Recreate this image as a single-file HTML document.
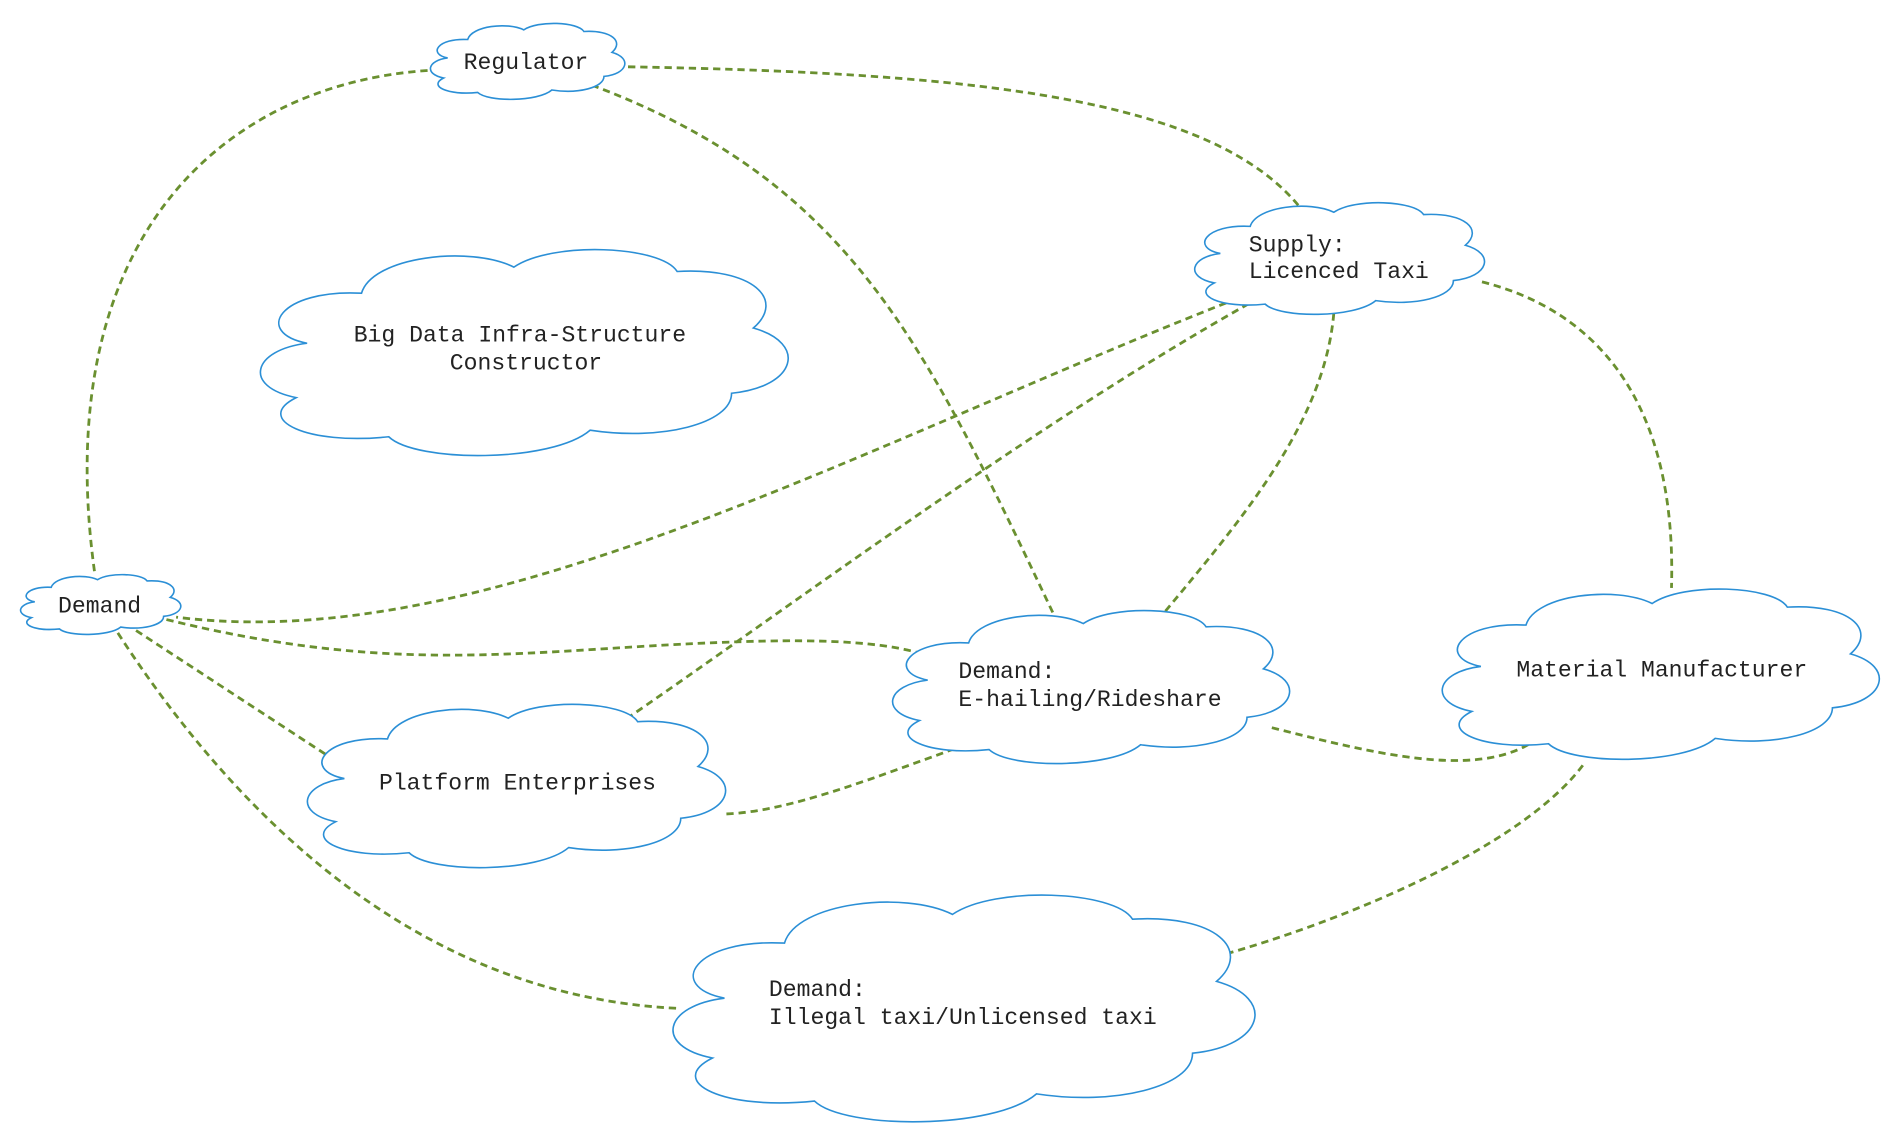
<!DOCTYPE html>
<html><head><meta charset="utf-8"><style>html,body{margin:0;padding:0;background:#fff}svg{display:block}</style></head>
<body>
<svg width="1895" height="1148" viewBox="0 0 1560 945" preserveAspectRatio="none" xmlns="http://www.w3.org/2000/svg">
<defs>
<path id="c" vector-effect="non-scaling-stroke" d="M10,45 C0,40 5,20 20,22 C22,5 40,0 48,10 C55,-2 75,0 78,12 C92,10 98,25 92,38 C102,45 100,65 88,68 C88,82 75,90 62,85 C55,100 30,100 25,88 C10,92 0,80 8,70 C-2,65 0,48 10,45 Z"/>
</defs>
<g fill="none" stroke="#6a9030" stroke-width="2.3" stroke-dasharray="6,4">
<path d="M352,58 C180,70 40,200 78,472"/>
<path d="M517,55 C800,60 1000,80 1072,173"/>
<path d="M487,70 C700,150 760,280 868,507"/>
<path d="M1028,242 C700,370 400,540 145,508"/>
<path d="M1028,250 C850,350 650,500 508,597"/>
<path d="M1098,258 C1090,350 1020,430 952,512"/>
<path d="M1220,232 C1330,260 1380,350 1376,484"/>
<path d="M137,510 C300,550 400,540 530,532 C650,525 720,525 765,540"/>
<path d="M112,519 L285,632"/>
<path d="M97,521 C200,680 350,820 557,830"/>
<path d="M598,670 C650,668 720,640 795,613"/>
<path d="M1047,599 C1130,620 1210,640 1258,613"/>
<path d="M1303,630 C1250,700 1100,760 1003,787"/>
</g>
<g fill="#fff" stroke="#2b8fd6" stroke-width="1.6">
<use href="#c" transform="translate(352,18) scale(1.65,0.66)"/>
<use href="#c" transform="translate(980,165) scale(2.46,0.97)"/>
<use href="#c" transform="translate(208,202) scale(4.48,1.79)"/>
<use href="#c" transform="translate(15,472) scale(1.36,0.52)"/>
<use href="#c" transform="translate(730,500) scale(3.37,1.33)"/>
<use href="#c" transform="translate(1182,482) scale(3.71,1.48)"/>
<use href="#c" transform="translate(248,577) scale(3.55,1.42)"/>
<use href="#c" transform="translate(547,733) scale(4.94,1.97)"/>
</g>
<g font-family="Liberation Mono, monospace" font-size="19" fill="#222">
<text x="433" y="57" text-anchor="middle">Regulator</text>
<text x="1028" y="207">Supply:</text>
<text x="1028" y="229">Licenced Taxi</text>
<text x="428" y="281" text-anchor="middle">Big Data Infra-Structure</text>
<text x="433" y="304" text-anchor="middle">Constructor</text>
<text x="82" y="504" text-anchor="middle">Demand</text>
<text x="789" y="558">Demand:</text>
<text x="789" y="581">E-hailing/Rideshare</text>
<text x="1368" y="557" text-anchor="middle">Material Manufacturer</text>
<text x="426" y="650" text-anchor="middle">Platform Enterprises</text>
<text x="633" y="820">Demand:</text>
<text x="633" y="843">Illegal taxi/Unlicensed taxi</text>
</g>
</svg>
</body></html>
